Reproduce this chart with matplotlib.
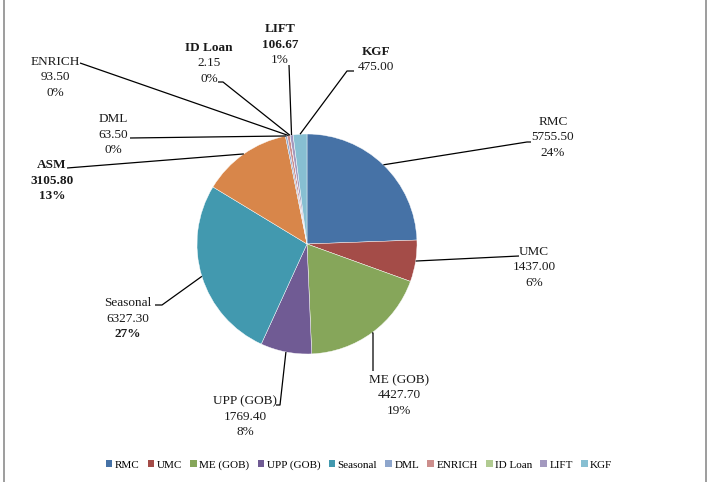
import numpy as np
import matplotlib
matplotlib.use('Agg')
import matplotlib.pyplot as plt
from matplotlib.patches import Patch

plt.rcParams['font.family'] = ['Liberation Serif', 'DejaVu Serif']

# data
names = ['RMC', 'UMC', 'ME (GOB)', 'UPP (GOB)', 'Seasonal', 'ASM',
         'DML', 'ENRICH', 'ID Loan', 'LIFT', 'KGF']
values = [5755.50, 1437.00, 4427.70, 1769.40, 6327.30, 3105.80,
          63.50, 93.50, 2.15, 106.67, 475.00]
value_labels = ['5755.50', '1437.00', '4427.70', '1769.40', '6327.30', '3105.80',
                '63.50', '93.50', '2.15', '106.67', '475.00']
pct_labels = ['24%', '6%', '19%', '8%', '27%', '13%', '0%', '0%', '0%', '1%', None]
legend_names = ['RMC', 'UMC', 'ME (GOB)', 'UPP (GOB)', 'Seasonal',
                'DML', 'ENRICH', 'ID Loan', 'LIFT', 'KGF']

colors = ['#4672A6', '#A44C48', '#86A65A', '#705B94', '#4299AF', '#D8864A',
          '#8EA6CC', '#CC8E8C', '#B1CB91', '#A399BF', '#87BFD2']

# which lines are bold: (name, value, pct)
bold = {
    'ASM': (True, True, True),
    'Seasonal': (False, False, True),
    'ID Loan': (True, False, False),
    'LIFT': (True, True, False),
    'KGF': (True, False, False),
}

# label layout in pixel coords: x centre, y of first line, leader waypoints
layout = {
    'RMC': (553, 122, [(527, 142), (531, 142)]),
    'UMC': (534, 252, [(519, 256)]),
    'ME (GOB)': (399, 380, [(373, 333), (373, 371)]),
    'UPP (GOB)': (245, 401, [(280, 405), (276, 405)]),
    'Seasonal': (128, 303, [(162, 305), (155, 305)]),
    'ASM': (52, 165, [(67, 168)]),
    'DML': (113, 119, [(130, 138)]),
    'ENRICH': (55, 62, [(80, 63)]),
    'ID Loan': (209, 48, [(223, 82), (218, 82)]),
    'LIFT': (280, 29, [(289, 65)]),
    'KGF': (376, 52, [(347, 71), (354, 71)]),
}

W, H = 709, 482
fig = plt.figure(figsize=(W / 100, H / 100), dpi=100)
ax = fig.add_axes([0, 0, 1, 1])

cx, cy, r = 307, 244, 110
wedges, _ = ax.pie(values, colors=colors, startangle=-90, counterclock=True,
                   center=(cx, cy), radius=r,
                   wedgeprops=dict(edgecolor='white', linewidth=0.3))

ax.set_xlim(0, W)
ax.set_ylim(H, 0)
ax.set_aspect('equal')
ax.axis('off')

step = 15.5
for i, name in enumerate(names):
    w = wedges[i]
    mid = np.deg2rad((w.theta1 + w.theta2) / 2)
    sx, sy = cx + r * np.cos(mid), cy + r * np.sin(mid)
    x0, y0, pts = layout[name]
    xs = [sx] + [p[0] for p in pts]
    ys = [sy] + [p[1] for p in pts]
    ax.plot(xs, ys, color='black', lw=0.9, solid_capstyle='butt', zorder=3)

    lines = [name, value_labels[i]]
    if pct_labels[i] is not None:
        lines.append(pct_labels[i])
    b = bold.get(name, (False, False, False))
    for k, txt in enumerate(lines):
        ax.text(x0, y0 + k * step, txt, ha='center', va='center',
                fontsize=9.5, color='#1a1a1a',
                fontweight='bold' if b[k] else 'normal')

handles = [Patch(facecolor=colors[names.index(n)], edgecolor='none')
           for n in legend_names]
fig.legend(handles, legend_names, loc='center', bbox_to_anchor=(359 / W, 1 - 465 / H),
           ncol=10, frameon=False, fontsize=8, handlelength=0.6, handleheight=0.6,
           handletextpad=0.2, columnspacing=0.75, borderpad=0)

# side borders of the figure box
ax.plot([4, 4], [0, H], color='#8c8c8c', lw=1.2)
ax.plot([706, 706], [0, H], color='#8c8c8c', lw=1.2)

fig.savefig('out.png', dpi=100)
